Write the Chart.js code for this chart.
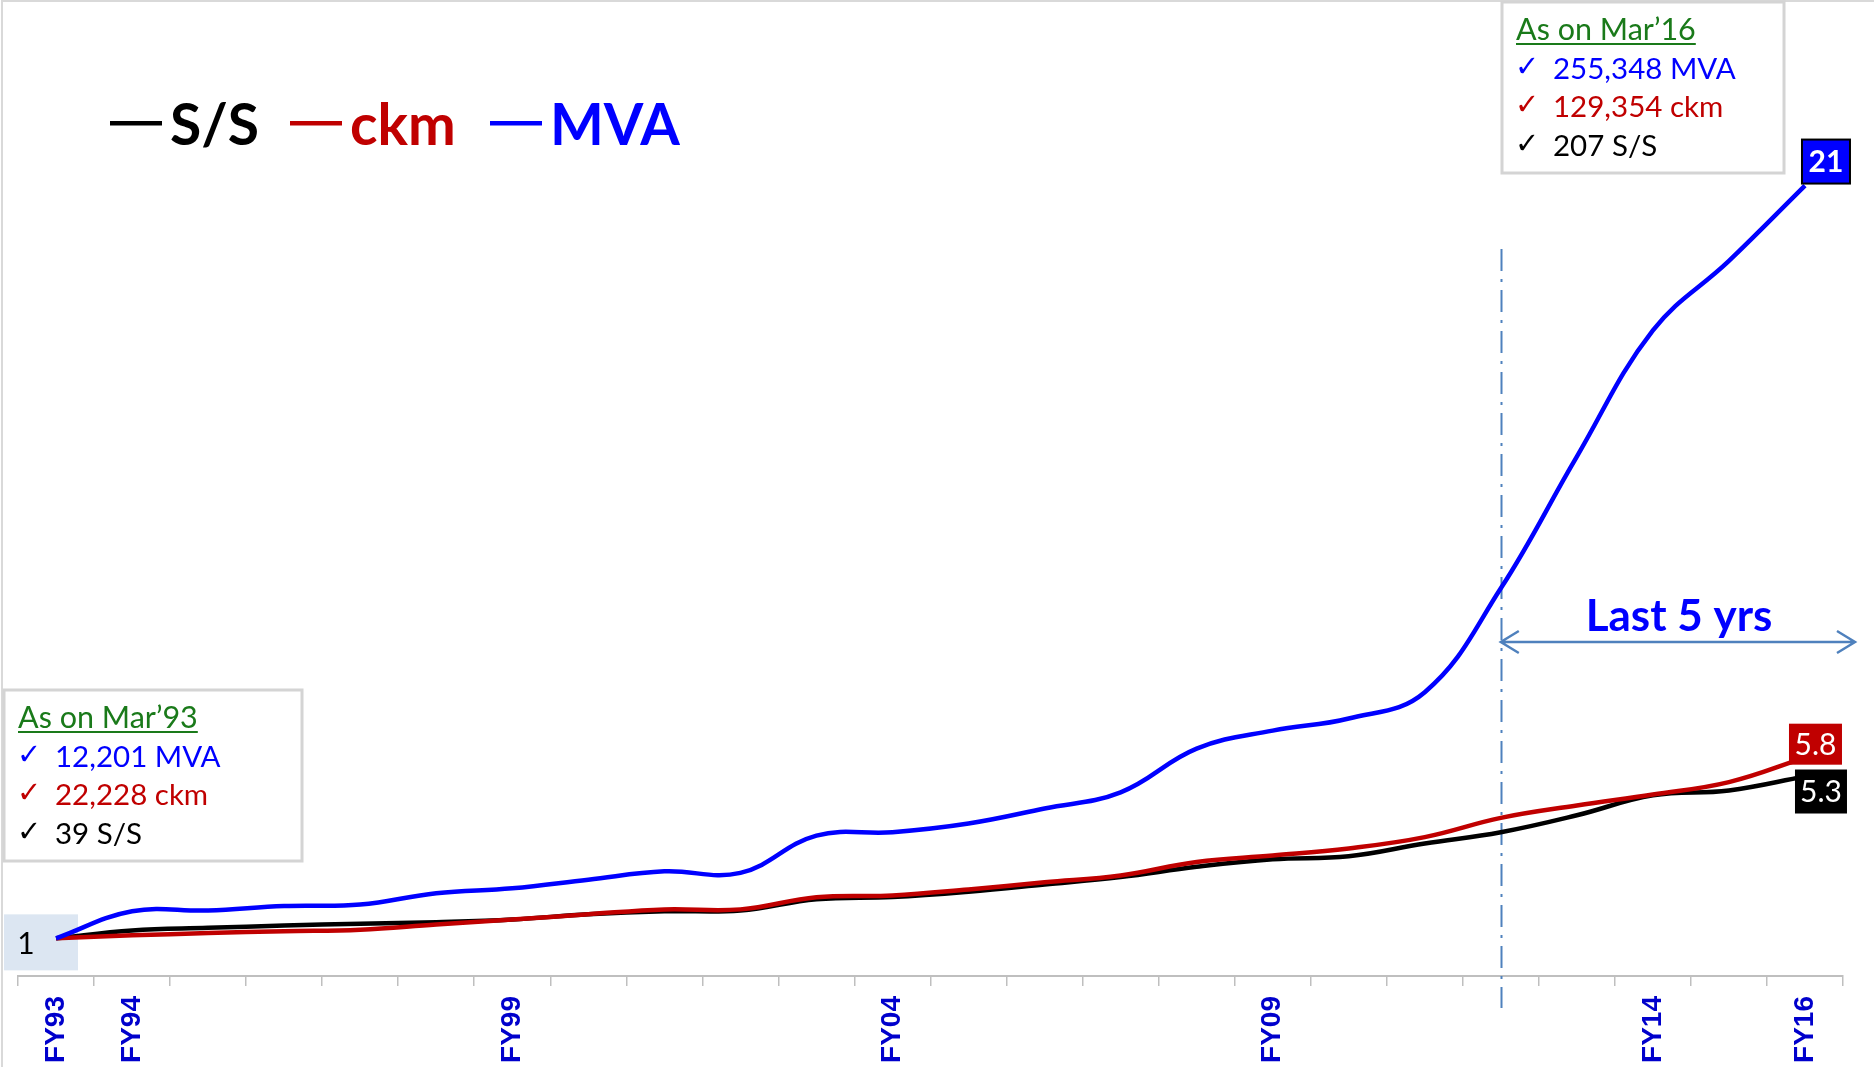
<!DOCTYPE html>
<html>
<head>
<meta charset="utf-8">
<script src="https://cdn.jsdelivr.net/npm/chart.js@4"></script>
<style>
  body { margin: 0; background: #fff; }
  #wrap { width: 1874px; height: 1067px; }
</style>
</head>
<body>
<div id="wrap"><canvas id="myChart" width="1874" height="1067"></canvas></div>
<script>
const years = ['FY93','FY94','FY95','FY96','FY97','FY98','FY99','FY00','FY01','FY02','FY03','FY04',
               'FY05','FY06','FY07','FY08','FY09','FY10','FY11','FY12','FY13','FY14','FY15','FY16'];
const shownYears = ['FY93','FY94','FY99','FY04','FY09','FY14','FY16'];

// growth multiple vs Mar'93 (=1)
const mva = [1, 1.72, 1.74, 1.86, 1.90, 2.20, 2.33, 2.56, 2.78, 2.74, 3.73, 3.82,
             4.05, 4.45, 4.88, 6.04, 6.52, 6.84, 7.54, 10.3, 13.8, 17.15, 19.0, 21];
const ckm = [1, 1.08, 1.14, 1.19, 1.23, 1.37, 1.50, 1.64, 1.77, 1.77, 2.09, 2.14,
             2.30, 2.49, 2.67, 3.03, 3.20, 3.39, 3.69, 4.20, 4.53, 4.82, 5.15, 5.8];
const subStations = [1, 1.21, 1.28, 1.34, 1.39, 1.43, 1.50, 1.64, 1.72, 1.74, 2.04, 2.10,
                     2.24, 2.43, 2.63, 2.90, 3.10, 3.18, 3.52, 3.82, 4.27, 4.80, 4.93, 5.3];

const startBox = ['As on Mar\u201993', '12,201 MVA', '22,228 ckm', '39 S/S'];
const endBox = ['As on Mar\u201916', '255,348 MVA', '129,354 ckm', '207 S/S'];
const markYear = 'FY12';

const BLUE = '#0000FF', RED = '#C00000', BLACK = '#000000', GREEN = '#1A7A1A', STEEL = '#4F81BD';
const FONT = 'Lato, "Noto Sans", sans-serif';

function infoBox(c, left, top, w, h, lines) {
  c.fillStyle = '#fff';
  c.fillRect(left, top, w, h);
  c.strokeStyle = '#d4d4d4';
  c.lineWidth = 3;
  c.strokeRect(left, top, w, h);
  c.textAlign = 'left';
  c.textBaseline = 'alphabetic';
  c.font = '30.5px ' + FONT;
  c.fillStyle = GREEN;
  c.fillText(lines[0], left + 14, top + 38);
  const tw = c.measureText(lines[0]).width;
  c.fillRect(left + 14, top + 41, tw, 2);
  const cols = [BLUE, RED, BLACK];
  for (let i = 1; i < 4; i++) {
    const base = top + 38 + i * 38.5;
    c.fillStyle = cols[i - 1];
    c.font = '29px "DejaVu Sans"';
    c.fillText('\u2713', left + 13, base - 3);
    c.font = '29.5px ' + FONT;
    c.fillText(lines[i], left + 51, base);
  }
}

function valueBox(c, left, top, w, h, fill, border, text, bold) {
  c.fillStyle = fill;
  c.fillRect(left, top, w, h);
  if (border) {
    c.strokeStyle = border;
    c.lineWidth = 2;
    c.strokeRect(left, top, w, h);
  }
  c.fillStyle = text.color;
  c.font = (bold ? 'bold ' : '') + '30px ' + FONT;
  c.textAlign = 'center';
  c.textBaseline = 'middle';
  c.fillText(text.str, left + w / 2, top + h / 2 + 1);
}

const extras = {
  id: 'extras',
  beforeDatasetsDraw(chart) {
    const c = chart.ctx;
    const x = chart.scales.x, y = chart.scales.y;
    c.save();
    // frame
    c.strokeStyle = '#d9d9d9';
    c.lineWidth = 2;
    c.beginPath();
    c.moveTo(2, 1067); c.lineTo(2, 1); c.lineTo(1874, 1);
    c.stroke();
    // dash-dot marker at FY12
    const mx = Math.round(x.getPixelForValue(years.indexOf(markYear))) + 0.5;
    c.strokeStyle = STEEL;
    c.lineWidth = 2;
    c.setLineDash([22, 8, 3, 8]);
    c.beginPath();
    c.moveTo(mx, 249); c.lineTo(mx, 1008);
    c.stroke();
    c.setLineDash([]);
    // start label "1" (behind the lines)
    const px0 = x.getPixelForValue(0), py0 = y.getPixelForValue(1);
    c.fillStyle = '#DCE6F2';
    c.fillRect(px0 - 52, py0 - 24, 74, 56);
    c.fillStyle = BLACK;
    c.font = '30px ' + FONT;
    c.textAlign = 'center';
    c.textBaseline = 'alphabetic';
    c.fillText('1', px0 - 30, py0 + 16);
    c.restore();
  },
  afterDraw(chart) {
    const c = chart.ctx;
    const x = chart.scales.x, y = chart.scales.y;
    c.save();

    // legend
    c.textBaseline = 'alphabetic';
    c.textAlign = 'left';
    c.font = 'bold 57px ' + FONT;
    [['S/S', BLACK, 110], ['ckm', RED, 290], ['MVA', BLUE, 490]].forEach(([t, col, lx]) => {
      c.fillStyle = col;
      c.fillRect(lx, 121, 52, 4.5);
      c.fillText(t, lx + 60, 145);
    });

    infoBox(c, 4, 690, 298, 171, startBox);
    infoBox(c, 1502, 2, 282, 171, endBox);

    // last 5 yrs arrow
    const mx = x.getPixelForValue(years.indexOf(markYear));
    const ax2 = 1855, ay = 642;
    c.strokeStyle = STEEL;
    c.lineWidth = 2.5;
    c.beginPath();
    c.moveTo(mx, ay); c.lineTo(ax2, ay);
    c.moveTo(mx + 18, ay - 11); c.lineTo(mx, ay); c.lineTo(mx + 18, ay + 11);
    c.moveTo(ax2 - 18, ay - 11); c.lineTo(ax2, ay); c.lineTo(ax2 - 18, ay + 11);
    c.stroke();
    c.fillStyle = BLUE;
    c.font = 'bold 44px ' + FONT;
    c.textAlign = 'center';
    c.fillText('Last 5 yrs', 1679, 631);

    // end value labels
    const last = years.length - 1;
    const pxL = x.getPixelForValue(last);
    const pB = y.getPixelForValue(mva[last]);
    const pR = y.getPixelForValue(ckm[last]);
    const pK = y.getPixelForValue(subStations[last]);
    valueBox(c, pxL - 3, pB - 46, 48, 44, BLUE, BLACK, {str: String(mva[last]), color: '#fff'}, true);
    valueBox(c, pxL - 16, pR - 34, 53, 41, RED, null, {str: ckm[last].toFixed(1), color: '#fff'}, false);
    valueBox(c, pxL - 10, pK - 7, 52, 44, BLACK, null, {str: subStations[last].toFixed(1), color: '#fff'}, false);

    c.restore();
  }
};

new Chart(document.getElementById('myChart'), {
  type: 'line',
  data: {
    labels: years,
    datasets: [
      { label: 'MVA', data: mva, borderColor: BLUE, borderWidth: 4.5, pointRadius: 0, tension: 0.4 },
      { label: 'ckm', data: ckm, borderColor: RED, borderWidth: 4.5, pointRadius: 0, tension: 0.4 },
      { label: 'S/S', data: subStations, borderColor: BLACK, borderWidth: 4.5, pointRadius: 0, tension: 0.4 }
    ]
  },
  options: {
    responsive: false,
    animation: false,
    layout: { padding: { left: 18, right: 31, top: 35, bottom: 0 } },
    plugins: { legend: { display: false }, tooltip: { enabled: false } },
    scales: {
      x: {
        offset: true,
        grid: { offset: true, drawOnChartArea: false, tickLength: 10, color: '#bfbfbf', lineWidth: 1.5 },
        border: { color: '#bfbfbf', width: 2 },
        ticks: {
          autoSkip: false,
          maxRotation: 90,
          minRotation: 90,
          padding: 10,
          color: '#0000CC',
          font: { family: 'Arial, "Liberation Sans", sans-serif', weight: 'bold', size: 28 },
          callback: function (v) {
            const l = this.getLabelForValue(v);
            return shownYears.includes(l) ? l : '';
          }
        },
        afterFit: function (s) { s.height = 91; }
      },
      y: { display: false, min: 0, max: 25 }
    }
  },
  plugins: [extras]
});
</script>
</body>
</html>
